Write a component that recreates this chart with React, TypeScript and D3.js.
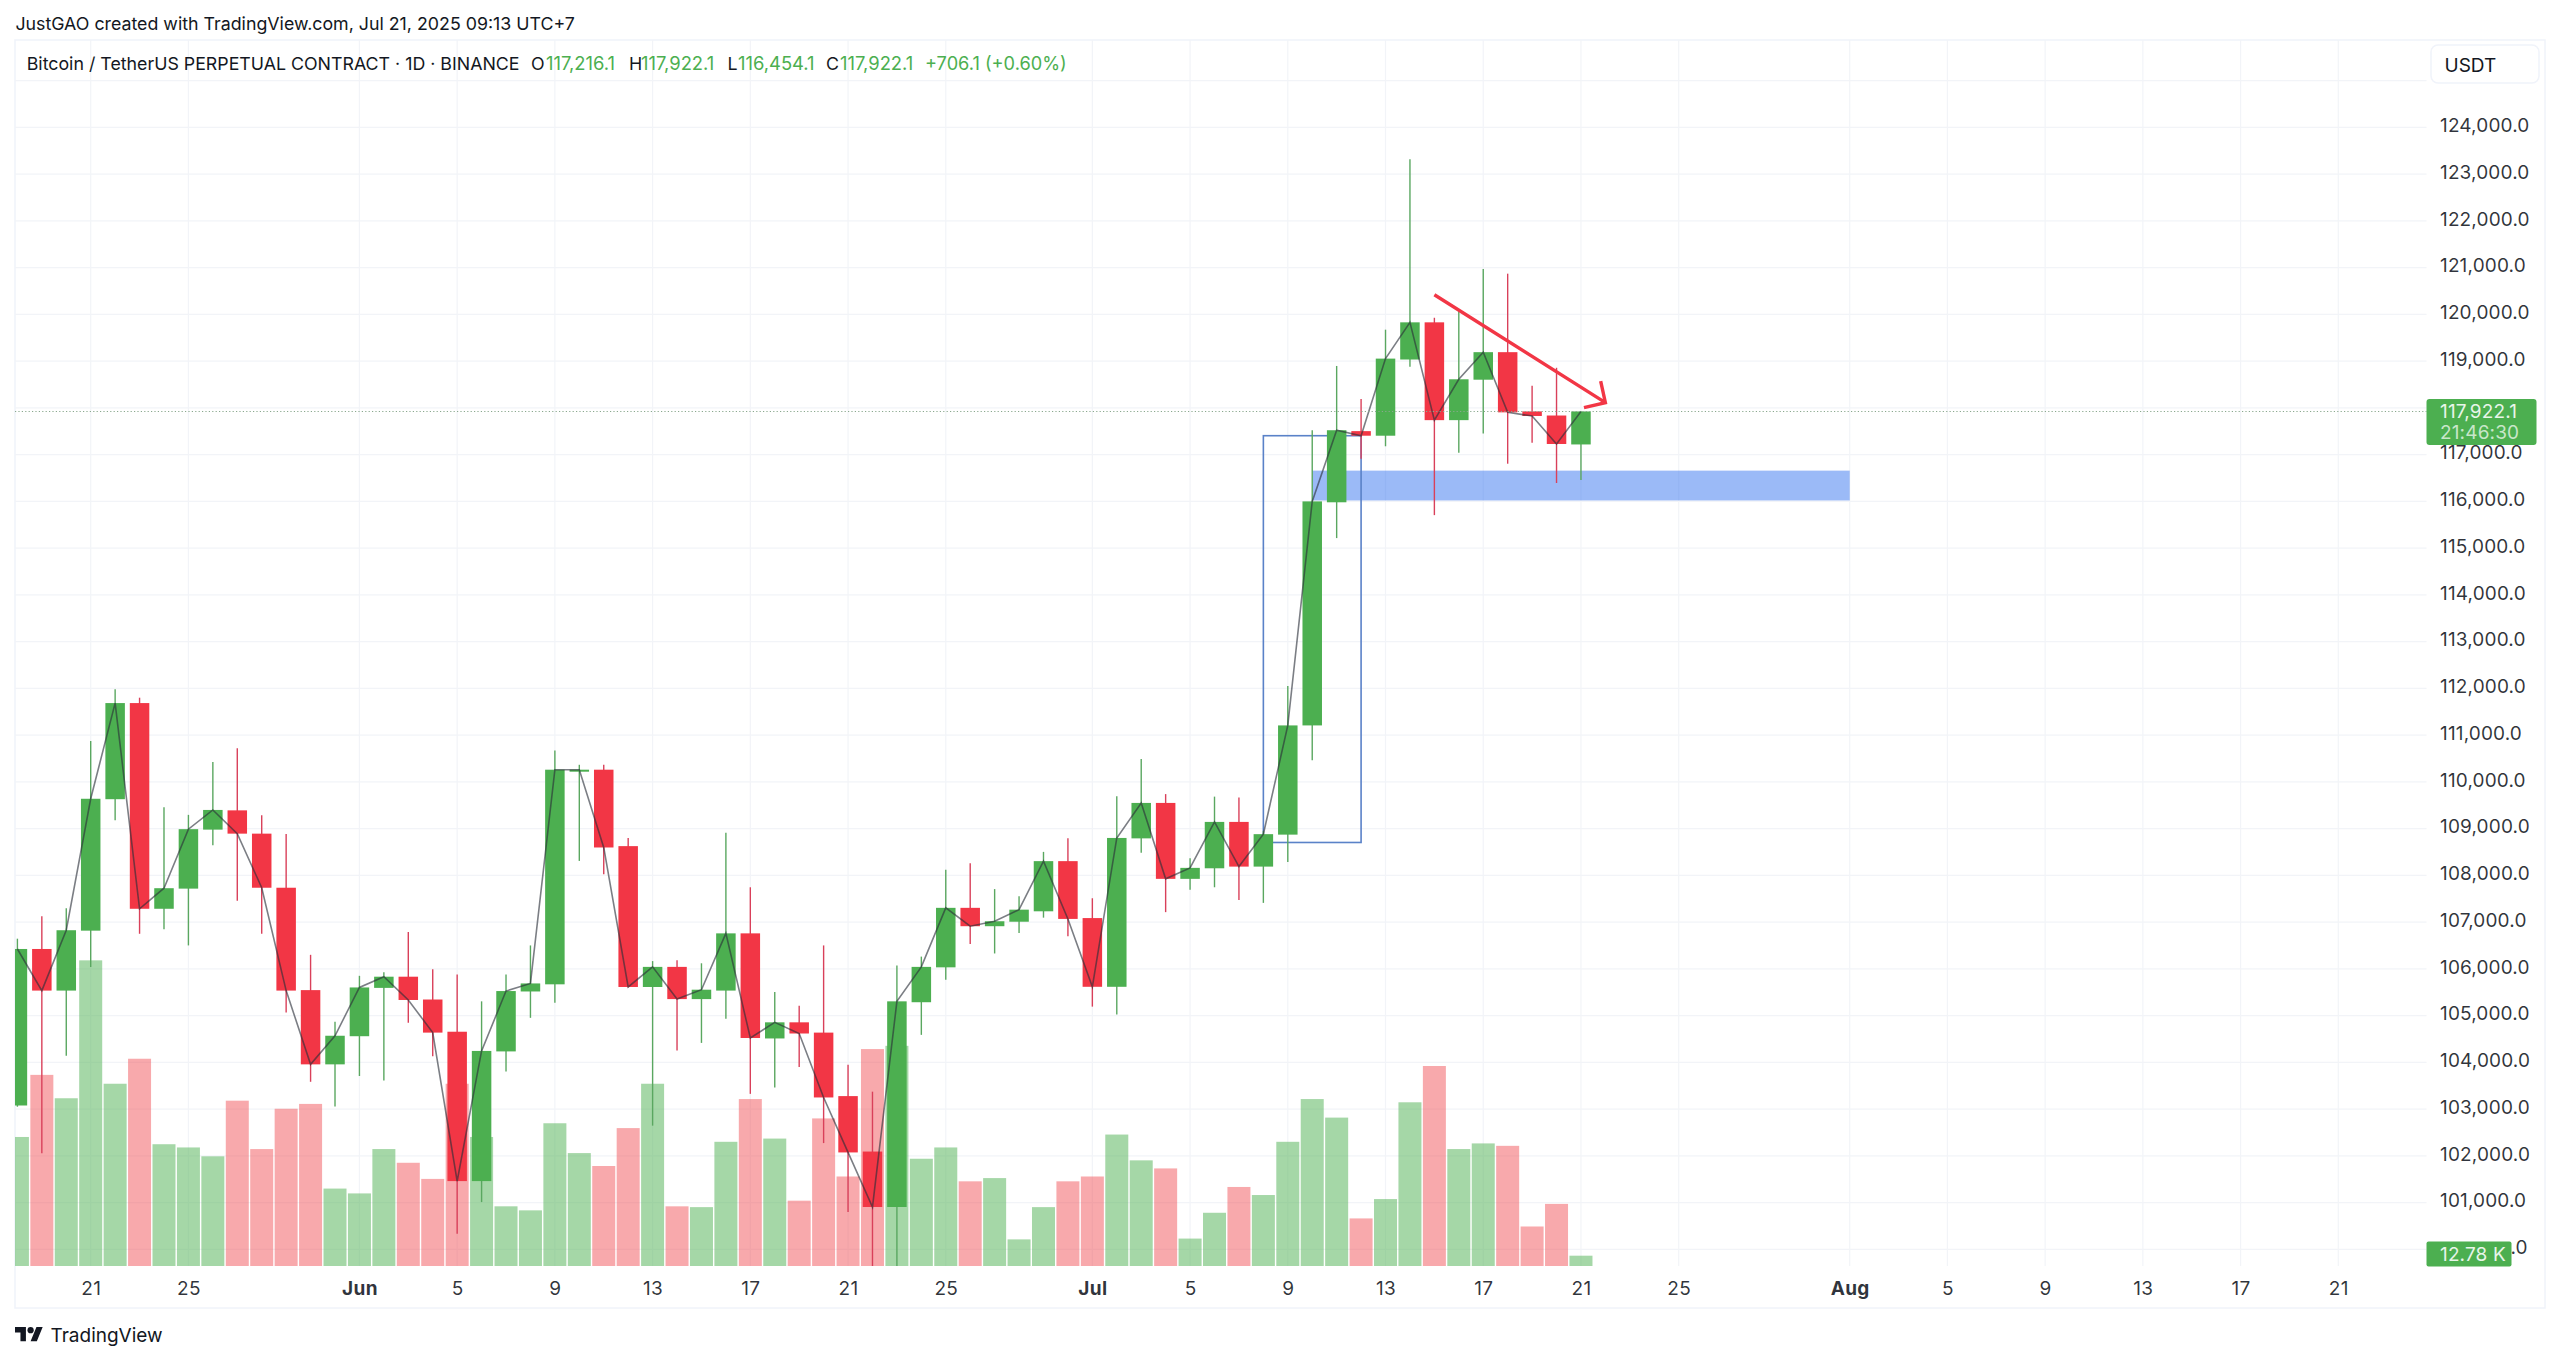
import React, { useEffect, useRef } from 'react';
import * as d3 from 'd3';

const opens = [103076, 106424, 105534, 106816, 109628, 111684, 107284, 107715, 108977, 109389, 108891, 107734, 105544, 103956, 104558, 105592, 105831, 105343, 104654, 101459, 104233, 105515, 105668, 110250, 110259, 108624, 105611, 106041, 105352, 105534, 106758, 104510, 104855, 104635, 103277, 102091, 100905, 105285, 106031, 107304, 106911, 107007, 107230, 108303, 107085, 105615, 108790, 109548, 107924, 108150, 109142, 108186, 108870, 111206, 115979, 117501, 117403, 119033, 119828, 117736, 118601, 119190, 117923, 117835, 117216.1];
const highs = [106644, 107122, 107294, 110871, 111981, 111799, 109456, 109293, 110422, 110718, 109284, 108882, 106299, 104865, 105850, 105926, 106787, 105993, 105878, 105304, 105878, 106500, 110670, 110364, 110364, 108796, 106165, 106184, 106118, 108911, 107744, 105505, 105209, 106500, 103946, 103372, 106070, 106261, 108117, 108260, 107705, 107552, 108501, 108790, 107509, 109692, 110486, 109737, 108366, 109683, 109665, 108950, 112051, 117520, 118895, 118188, 119671, 123314, 119926, 120083, 120967, 120869, 118473, 118856, 117922.1];
const lows = [103050, 102052, 104138, 106041, 109178, 106749, 106845, 106500, 108643, 107457, 106749, 105065, 103583, 103057, 103707, 103611, 104845, 104128, 100331, 101010, 103803, 104951, 105276, 108308, 108021, 105601, 102645, 104252, 104415, 104931, 103325, 103459, 103898, 102272, 100799, 99642, 99642, 104587, 105764, 106529, 106328, 106768, 107094, 106697, 105191, 105020, 108483, 107212, 107690, 107744, 107473, 107410, 108285, 110460, 115213, 116912, 117177, 118876, 115704, 117039, 117452, 116804, 117255, 116391, 116454.1];
const closes = [106424, 105534, 106825, 109637, 111684, 107284, 107724, 108987, 109398, 108891, 107734, 105534, 103956, 104568, 105601, 105831, 105333, 104635, 101459, 104243, 105524, 105687, 110259, 110259, 108595, 105611, 106041, 105352, 105553, 106758, 104520, 104855, 104616, 103248, 102072, 100905, 105304, 106041, 107304, 106911, 107017, 107265, 108303, 107067, 105615, 108799, 109548, 107924, 108159, 109142, 108186, 108880, 111206, 115998, 117520, 117403, 119052, 119828, 117736, 118610, 119190, 117903, 117825, 117226, 117922.1];
const volumes = [160, 237, 208, 379, 226, 257, 151, 147, 136, 205, 145, 195, 201, 96, 90, 145, 128, 108, 226, 160, 74, 69, 177, 140, 124, 171, 226, 74, 73, 154, 207, 158, 81, 183, 111, 269, 273, 133, 147, 105, 109, 33, 73, 105, 111, 163, 131, 121, 34, 66, 98, 88, 154, 207, 184, 59, 83, 203, 248, 145, 152, 149, 49, 77, 12.78];

const days = d3.utcDay.range(new Date(Date.UTC(2025, 4, 18)), new Date(Date.UTC(2025, 6, 22)));

// 118,000 sits under the last price tag and 100,000 under the volume tag
const priceTicks = d3.range(101000, 125000, 1000).filter(p => p !== 118000);
const gridPrices = d3.range(100000, 126000, 1000);

const timeTickDays = ['2025-05-21', '2025-05-25', '2025-06-01', '2025-06-05', '2025-06-09', '2025-06-13', '2025-06-17', '2025-06-21', '2025-06-25', '2025-07-01', '2025-07-05', '2025-07-09', '2025-07-13', '2025-07-17', '2025-07-21', '2025-07-25', '2025-08-01', '2025-08-05', '2025-08-09', '2025-08-13', '2025-08-17', '2025-08-21'];
const timeTickLabels = ['21', '25', 'Jun', '5', '9', '13', '17', '21', '25', 'Jul', '5', '9', '13', '17', '21', '25', 'Aug', '5', '9', '13', '17', '21'];

const FONT = 'Inter, "Noto Sans", sans-serif';
const GREEN = '#4caf50';
const RED = '#f23645';
const GRID = '#f2f4f8';
const TEXT = '#131722';

const day = (s: string) => new Date(s + 'T00:00:00Z');

export default function App() {
  const svgRef = useRef<SVGSVGElement>(null);

  useEffect(() => {
    if (!svgRef.current) return;

    const left = 15, right = 2426.5, top = 40, frameRight = 2545, paneBottom = 1266, frameBottom = 1308;

    const svg = d3.select(svgRef.current);
    svg.selectAll('*').remove();

    const x = d3.scaleUtc()
      .domain([day('2025-05-21'), day('2025-08-01')])
      .range([90.7, 1849.7]);
    const y = d3.scaleLinear()
      .domain([100000, 124000])
      .range([1249.3, 127.3]);
    const yVol = d3.scaleLinear()
      .domain([0, 400])
      .range([paneBottom, paneBottom - 400 / 1.24]);

    const defs = svg.append('defs');
    defs.append('clipPath').attr('id', 'pane')
      .append('rect')
      .attr('x', left).attr('y', top)
      .attr('width', right - left).attr('height', paneBottom - top);

    svg.append('rect').attr('width', 2560).attr('height', 1361).attr('fill', '#fff');

    // frame
    svg.append('rect')
      .attr('x', left).attr('y', top)
      .attr('width', frameRight - left).attr('height', frameBottom - top)
      .attr('fill', 'none').attr('stroke', '#f0f3fa').attr('stroke-width', 1.5);

    // grid
    svg.append('g').selectAll('line').data(gridPrices).join('line')
      .attr('x1', left).attr('x2', right)
      .attr('y1', d => y(d)).attr('y2', d => y(d))
      .attr('stroke', GRID).attr('stroke-width', 1.2);
    svg.append('g').selectAll('line').data(timeTickDays).join('line')
      .attr('x1', d => x(day(d))).attr('x2', d => x(day(d)))
      .attr('y1', top).attr('y2', paneBottom)
      .attr('stroke', GRID).attr('stroke-width', 1.2);

    const pane = svg.append('g').attr('clip-path', 'url(#pane)');

    const idx = d3.range(days.length);
    const isUp = (i: number) => closes[i] >= opens[i];

    // volume
    const volW = 23;
    pane.append('g').selectAll('rect').data(idx).join('rect')
      .attr('x', i => x(days[i]) - volW / 2)
      .attr('width', volW)
      .attr('y', i => yVol(volumes[i]))
      .attr('height', i => paneBottom - yVol(volumes[i]))
      .attr('fill', i => isUp(i) ? GREEN : '#f0444a')
      .attr('fill-opacity', i => isUp(i) ? 0.5 : 0.46);

    // demand zone
    pane.append('rect')
      .attr('x', x(day('2025-07-10')))
      .attr('width', x(day('2025-08-01')) - x(day('2025-07-10')))
      .attr('y', y(116656))
      .attr('height', y(116018) - y(116656))
      .attr('fill', '#2f6fef')
      .attr('fill-opacity', 0.48);

    // box around the breakout
    pane.append('rect')
      .attr('x', x(day('2025-07-08')))
      .attr('width', x(day('2025-07-12')) - x(day('2025-07-08')))
      .attr('y', y(117403))
      .attr('height', y(108702) - y(117403))
      .attr('fill', 'none')
      .attr('stroke', '#5a82c8')
      .attr('stroke-width', 1.6);

    // last price line
    svg.append('line')
      .attr('x1', left).attr('x2', right)
      .attr('y1', y(closes[closes.length - 1])).attr('y2', y(closes[closes.length - 1]))
      .attr('stroke', '#8aa88e')
      .attr('stroke-width', 1.1)
      .attr('stroke-dasharray', '1.2 2.2');

    // wicks
    pane.append('g').selectAll('line').data(idx).join('line')
      .attr('x1', i => x(days[i])).attr('x2', i => x(days[i]))
      .attr('y1', i => y(highs[i])).attr('y2', i => y(lows[i]))
      .attr('stroke', i => isUp(i) ? '#5aa760' : '#d9405a')
      .attr('stroke-width', 1.4);

    // bodies
    const bodyW = 19.5;
    pane.append('g').selectAll('rect').data(idx).join('rect')
      .attr('x', i => x(days[i]) - bodyW / 2)
      .attr('width', bodyW)
      .attr('y', i => y(Math.max(opens[i], closes[i])))
      .attr('height', i => Math.max(2, Math.abs(y(opens[i]) - y(closes[i]))))
      .attr('fill', i => isUp(i) ? GREEN : RED);

    // close line
    const closeLine = d3.line<number>()
      .x(i => x(days[i]))
      .y(i => y(closes[i]));
    pane.append('path')
      .attr('d', closeLine(idx))
      .attr('fill', 'none')
      .attr('stroke', '#2a2e39')
      .attr('stroke-opacity', 0.62)
      .attr('stroke-width', 1.6);

    // arrow
    const ax0 = x(day('2025-07-15')), ay0 = y(120417);
    const ax1 = x(day('2025-07-22')), ay1 = y(118110);
    const angle = Math.atan2(ay1 - ay0, ax1 - ax0);
    const head = 22;
    const arrow = d3.path();
    arrow.moveTo(ax0, ay0);
    arrow.lineTo(ax1, ay1);
    arrow.moveTo(ax1 + head * Math.cos(angle + 2.35), ay1 + head * Math.sin(angle + 2.35));
    arrow.lineTo(ax1, ay1);
    arrow.lineTo(ax1 + head * Math.cos(angle - 2.35), ay1 + head * Math.sin(angle - 2.35));
    pane.append('path')
      .attr('d', arrow.toString())
      .attr('fill', 'none')
      .attr('stroke', RED)
      .attr('stroke-width', 3.4);

    // price axis
    const yAxis = d3.axisRight(y)
      .tickValues(priceTicks)
      .tickSize(0)
      .tickPadding(0)
      .tickFormat(d => d3.format(',.1f')(d as number));
    const yg = svg.append('g').attr('transform', 'translate(2440,-1.5)').call(yAxis);
    yg.select('.domain').remove();
    yg.selectAll('text')
      .attr('font-family', FONT).attr('font-size', 19)
      .attr('letter-spacing', 0.15)
      .attr('fill', TEXT).attr('fill-opacity', 0.88)
      .attr('dy', '0.3em');

    // time axis
    const xAxis = d3.axisBottom(x)
      .tickValues(timeTickDays.map(day))
      .tickSize(0)
      .tickPadding(0)
      .tickFormat((_, i) => timeTickLabels[i]);
    const xg = svg.append('g').attr('transform', `translate(0,${paneBottom + 15})`).call(xAxis);
    xg.select('.domain').remove();
    xg.selectAll('text')
      .attr('font-family', FONT).attr('font-size', 19)
      .attr('letter-spacing', 0.3)
      .attr('fill', TEXT).attr('fill-opacity', 0.88)
      .attr('font-weight', (_, i) => /[A-Z]/.test(timeTickLabels[i]) ? 700 : 400)
      .attr('y', 0).attr('dy', '0.75em');

    // last price label
    svg.append('rect')
      .attr('x', right).attr('y', 399).attr('width', 110).attr('height', 46).attr('rx', 3)
      .attr('fill', GREEN);
    svg.append('text')
      .attr('x', 2440).attr('y', 417.5)
      .attr('font-family', FONT).attr('font-size', 19).attr('letter-spacing', 0.15)
      .attr('fill', '#e8f5e9')
      .text(d3.format(',.1f')(closes[closes.length - 1]));
    svg.append('text')
      .attr('x', 2440).attr('y', 438.5)
      .attr('font-family', FONT).attr('font-size', 19).attr('letter-spacing', 0.15)
      .attr('fill', '#c8e6c9')
      .text('21:46:30');

    // volume label and the visible end of the price label behind it
    svg.append('rect')
      .attr('x', right).attr('y', 1241.5).attr('width', 85).attr('height', 25).attr('rx', 2)
      .attr('fill', GREEN);
    svg.append('text')
      .attr('x', 2440).attr('y', 1261)
      .attr('font-family', FONT).attr('font-size', 19).attr('letter-spacing', 0.15)
      .attr('fill', '#e8f5e9')
      .text('12.78 K');
    svg.append('text')
      .attr('x', 2527.5).attr('y', y(100000) + 4.5)
      .attr('text-anchor', 'end')
      .attr('font-family', FONT).attr('font-size', 19)
      .attr('fill', TEXT).attr('fill-opacity', 0.88)
      .text('.0');

    // currency button
    svg.append('rect')
      .attr('x', 2431).attr('y', 45).attr('width', 108).attr('height', 38).attr('rx', 7)
      .attr('fill', '#fff').attr('stroke', '#f0f3fa').attr('stroke-width', 1.5);
    svg.append('text')
      .attr('x', 2444.5).attr('y', 71.5)
      .attr('font-family', FONT).attr('font-size', 19)
      .attr('fill', TEXT)
      .text('USDT');

    // header texts
    const label = (px: number, py: number, txt: string, fill: string, size = 17.8) =>
      svg.append('text')
        .attr('x', px).attr('y', py)
        .attr('font-family', FONT).attr('font-size', size)
        .attr('fill', fill)
        .text(txt);

    label(15.4, 30, 'JustGAO created with TradingView.com, Jul 21, 2025 09:13 UTC+7', TEXT);
    label(26.7, 69.5, 'Bitcoin / TetherUS PERPETUAL CONTRACT · 1D · BINANCE', TEXT);

    const fmt = d3.format(',.1f');
    const last = closes.length - 1;
    label(531, 69.5, 'O', TEXT);
    label(546, 69.5, fmt(opens[last]), GREEN, 18.4);
    label(629, 69.5, 'H', TEXT);
    label(641, 69.5, fmt(highs[last]), GREEN, 18.4);
    label(727.5, 69.5, 'L', TEXT);
    label(738, 69.5, fmt(lows[last]), GREEN, 18.4);
    label(826, 69.5, 'C', TEXT);
    label(840, 69.5, fmt(closes[last]), GREEN, 18.4);
    label(925, 69.5, '+706.1 (+0.60%)', GREEN, 18.2);

    // logo
    svg.append('g')
      .attr('transform', 'translate(15,1324) scale(0.78)')
      .call(g => {
        g.append('path').attr('d', 'M14 22H7V11H0V4h14v18zM28 22h-8l7.5-18h8L28 22z').attr('fill', TEXT);
        g.append('circle').attr('cx', 20).attr('cy', 8).attr('r', 4).attr('fill', TEXT);
      });
    label(50.5, 1342, 'TradingView', TEXT, 19);
  }, []);

  return (
    <svg
      ref={svgRef}
      width={2560}
      height={1361}
      style={{ position: 'absolute', left: 0, top: 0, display: 'block' }}
    />
  );
}
